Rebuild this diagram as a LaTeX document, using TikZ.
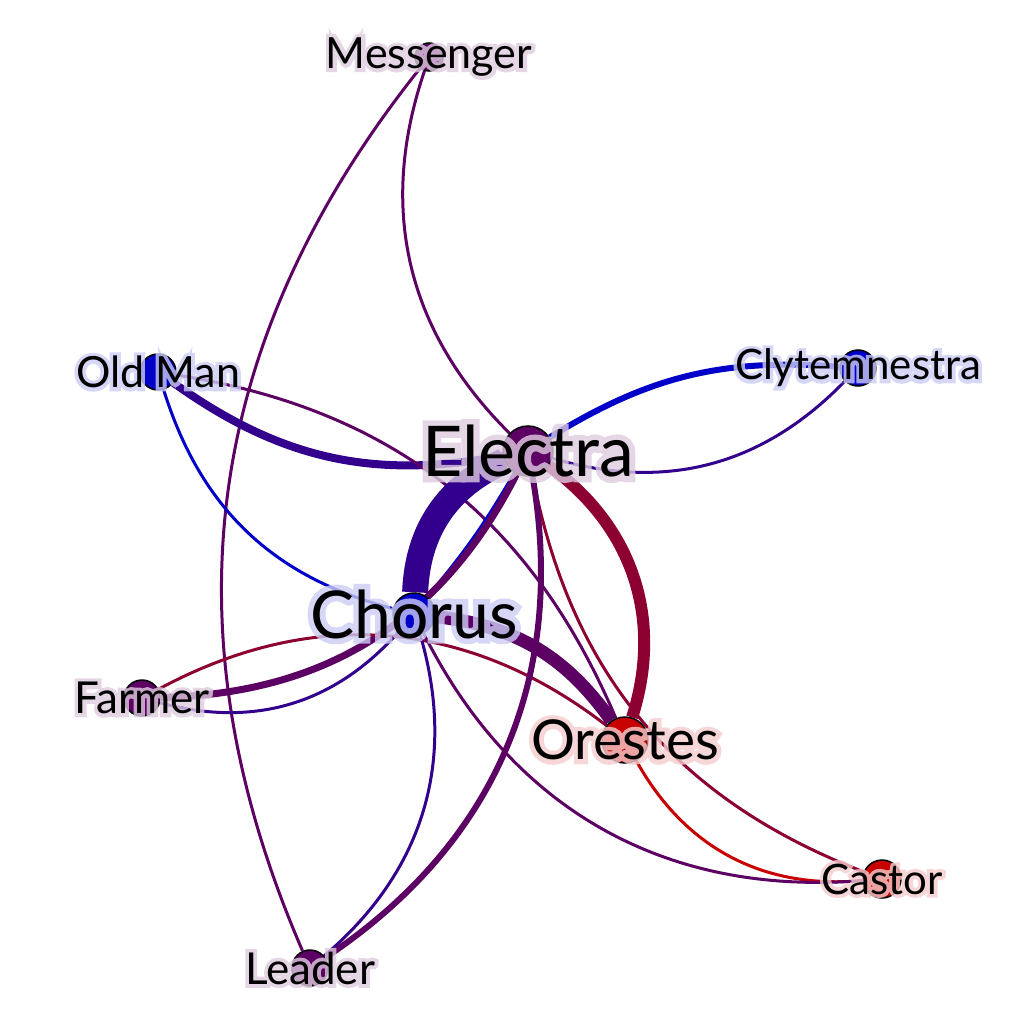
\documentclass[tikz,border=0pt]{standalone}
\usepackage{fontspec}
\setmainfont{Lato}
\newfontfamily\halofont[FakeBold=17]{Lato}
\newfontfamily\halofontsm[FakeBold=17]{Lato}
\usetikzlibrary{backgrounds}
\definecolor{cpurple}{RGB}{92,0,100}
\definecolor{cindigo}{RGB}{50,0,140}
\definecolor{cblue}{RGB}{0,0,200}
\definecolor{ccrimson}{RGB}{140,0,50}
\definecolor{cred}{RGB}{200,0,0}
\begin{document}
\begin{tikzpicture}[x=1pt,y=1pt,
    vx/.style={circle,draw=black,line width=1.5pt,inner sep=0pt,minimum size=#1},
    hl/.style={inner sep=0pt,text=#1!20},
    lb/.style={inner sep=0pt,text=black},
    ed/.style={line width=#1,line cap=butt}]
    \useasboundingbox (0,0) rectangle (1024,-1024);
    \foreach \n/\x/\y/\r/\c/\s/\h/\t in {Me/429/57/28/cpurple/43/\halofontsm/Messenger,OM/158/372/36/cblue/43/\halofontsm/Old Man,
        Cl/858/368/36/cblue/42/\halofontsm/Clytemnestra,El/528/451/50/cpurple/70/\halofont/Electra,Ch/414/614/42/cblue/66/\halofont/Chorus,
        Or/625/740/46/cred/55/\halofont/Orestes,Fa/142/698/36/cpurple/44/\halofontsm/Farmer,Le/310/968/36/cpurple/44/\halofontsm/Leader,
        Ca/882/879/38/cred/42/\halofontsm/Castor} {
        \node[vx=\r,fill=\c] (\n) at (\x,-\y) {};
        \begin{scope}[transparency group,opacity=0.8]
            \node[hl=\c,font=\fontsize{\s}{\s}\h] (\n-h) at (\n) {\t};
        \end{scope}
        \node[lb,font=\fontsize{\s}{\s}\selectfont] (\n-t) at (\n) {\t};
    }
    \begin{pgfonlayer}{background}
        \draw[ed=3,cpurple] (Me) to[bend right=31] (Le);
        \draw[ed=3,cpurple] (Me) to[bend right=32] (El);
        \draw[ed=8,cindigo] (OM) to[bend right=23] (El);
        \draw[ed=3,cblue] (OM) to[bend right=29] (Ch);
        \draw[ed=3,cpurple] (Or) to[bend right=29] (OM);
        \draw[ed=6,cblue] (Cl) to[bend right=18] (El);
        \draw[ed=3,cindigo] (El) to[bend right=31] (Cl);
        \draw[ed=26,cindigo] (El) to[bend right=32] (Ch);
        \draw[ed=5,cblue] (Ch) to[bend right=5] (El);
        \draw[ed=7,cpurple] (Fa) to[bend right=31] (El);
        \draw[ed=3,cindigo] (Fa) to[bend right=32] (Ch);
        \draw[ed=3,ccrimson] (Or) to[bend right=33] (Fa);
        \draw[ed=13,cpurple] (Or) to[bend right=24] (Ch);
        \draw[ed=12,ccrimson] (Or) to[bend right=36] (El);
        \draw[ed=3,ccrimson] (El) to[bend right=29] (Ca);
        \draw[ed=3,cred] (Or) to[bend right=33] (Ca);
        \draw[ed=3,cpurple] (Ch) to[bend right=34] (Ca);
        \draw[ed=3,cindigo] (Le) to[bend right=33] (Ch);
        \draw[ed=6,cpurple] (Le) to[bend right=33] (El);
    \end{pgfonlayer}
\end{tikzpicture}
\end{document}
